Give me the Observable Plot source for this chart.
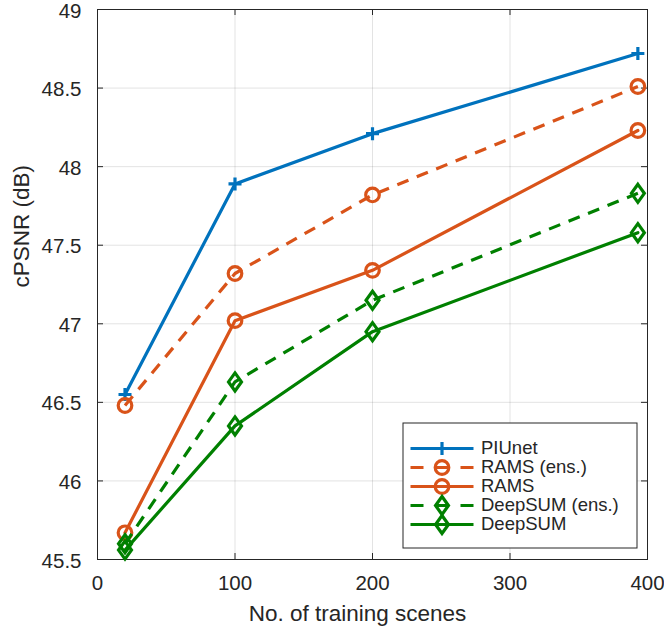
<!DOCTYPE html>
<html><head><meta charset="utf-8">
<script src="https://cdn.jsdelivr.net/npm/d3@7"></script>
<script src="https://cdn.jsdelivr.net/npm/@observablehq/plot@0.6"></script>
<style>
html,body{margin:0;padding:0;background:#fff;}
#wrap{position:relative;width:664px;height:628px;}
#legend{position:absolute;left:402px;top:422px;}
</style></head><body><div id="wrap"></div>
<script>
// ---- data ----
const scenes = [20, 100, 200, 393];
const seriesNames = ["PIUnet", "RAMS (ens.)", "RAMS", "DeepSUM (ens.)", "DeepSUM"];
const piunet     = [46.55, 47.89, 48.21, 48.72];
const ramsEns    = [46.48, 47.32, 47.82, 48.51];
const rams       = [45.67, 47.02, 47.34, 48.23];
const deepsumEns = [45.60, 46.63, 47.15, 47.83];
const deepsum    = [45.56, 46.35, 46.95, 47.58];
const xTicks = [0, 100, 200, 300, 400];
const yTicks = [45.5, 46, 46.5, 47, 47.5, 48, 48.5, 49];
const xLabel = "No. of training scenes";
const yLabel = "cPSNR (dB)";

// ---- styles ----
const BLUE = "#0072BD", ORANGE = "#D95319", GREEN = "#008000", INK = "#262626";
const FONT = "'Liberation Sans', Helvetica, Arial, sans-serif";
const plusSym = {draw(ctx, size) {const r = Math.sqrt(size / Math.PI); ctx.moveTo(-r, 0); ctx.lineTo(r, 0); ctx.moveTo(0, -r); ctx.lineTo(0, r);}};
const diamondSym = {draw(ctx, size) {const r = Math.sqrt(size / Math.PI), w = r * 0.72; ctx.moveTo(0, -r); ctx.lineTo(w, 0); ctx.lineTo(0, r); ctx.lineTo(-w, 0); ctx.closePath();}};

const seriesValues = [piunet, ramsEns, rams, deepsumEns, deepsum];
const seriesStyle = [
  {color: BLUE, dash: null, symbol: plusSym, r: 6.5},
  {color: ORANGE, dash: "12,9", symbol: "circle", r: 6.8},
  {color: ORANGE, dash: null, symbol: "circle", r: 6.8},
  {color: GREEN, dash: "12,9", symbol: diamondSym, r: 9},
  {color: GREEN, dash: null, symbol: diamondSym, r: 9}
];
const series = seriesNames.map((name, i) => ({
  name, ...seriesStyle[i],
  data: scenes.map((x, j) => ({x, y: seriesValues[i][j]}))
}));

const W = 664, H = 628, ML = 97, MR = 17, MT = 9, MB = 69;
const [x0, x1] = [xTicks[0], xTicks[xTicks.length - 1]];
const [y0, y1] = [yTicks[0], yTicks[yTicks.length - 1]];
const tlx = 6 * (x1 - x0) / (W - ML - MR);
const tly = 6 * (y1 - y0) / (H - MT - MB);

const marks = [
  Plot.gridX(xTicks, {stroke: INK, strokeOpacity: 0.13, strokeWidth: 1}),
  Plot.gridY(yTicks, {stroke: INK, strokeOpacity: 0.13, strokeWidth: 1}),
  Plot.axisX(xTicks, {tickSize: 0, tickPadding: 16, fontSize: 20.5, fill: INK, label: null, tickFormat: d => `${d}`}),
  Plot.axisY(yTicks, {tickSize: 0, tickPadding: 16, dy: 1.5, fontSize: 20.5, fill: INK, label: null, tickFormat: d => `${d}`}),
  Plot.ruleY(yTicks, {y: d => d, x1: x0, x2: x0 + tlx, stroke: INK}),
  Plot.ruleY(yTicks, {y: d => d, x1: x1 - tlx, x2: x1, stroke: INK}),
  Plot.ruleX(xTicks, {x: d => d, y1: y0, y2: y0 + tly, stroke: INK}),
  Plot.ruleX(xTicks, {x: d => d, y1: y1 - tly, y2: y1, stroke: INK}),
  Plot.frame({stroke: INK, strokeWidth: 1}),
];
for (const s of series) {
  marks.push(Plot.line(s.data, {x: "x", y: "y", stroke: s.color, strokeWidth: 3.2,
    strokeDasharray: s.dash || undefined, strokeLinecap: s.dash ? "butt" : "round", strokeLinejoin: "round"}));
  marks.push(Plot.dot(s.data, {x: "x", y: "y", symbol: s.symbol, r: s.r, stroke: s.color, fill: "none", strokeWidth: 3.2}));
}
marks.push(Plot.text([xLabel], {frameAnchor: "bottom", dx: -15, dy: 61, lineAnchor: "bottom", fontSize: 22.5, fill: INK}));
marks.push(Plot.text([yLabel], {frameAnchor: "left", rotate: -90, dx: -69, dy: 3, lineAnchor: "bottom", fontSize: 22.5, fill: INK}));

const chart = Plot.plot({
  width: W, height: H, marginLeft: ML, marginRight: MR, marginTop: MT, marginBottom: MB,
  x: {domain: [x0, x1], axis: null},
  y: {domain: [y0, y1], axis: null},
  style: {fontFamily: FONT, background: "white", color: INK, overflow: "visible"},
  marks
});
document.getElementById("wrap").appendChild(chart);

// ---- legend (overlay) ----
const legendMarks = [Plot.frame({fill: "white", stroke: INK, strokeWidth: 1, inset: 0.5})];
for (const s of series) {
  legendMarks.push(Plot.line([0, 1], {x: d => d, y: () => s.name, stroke: s.color, strokeWidth: 3.2,
    strokeDasharray: s.dash ? "13,12" : undefined, strokeLinecap: "butt"}));
  legendMarks.push(Plot.dot([0.5], {x: d => d, y: () => s.name, symbol: s.symbol, r: s.r, stroke: s.color, fill: "none", strokeWidth: 3.2}));
  legendMarks.push(Plot.text([s.name], {x: () => 1, y: d => d, dx: 7.5, textAnchor: "start", fontSize: 18.5, fill: INK}));
}
const legend = Plot.plot({
  width: 235, height: 126, margin: 0,
  x: {domain: [0, 1], range: [8, 71], axis: null},
  y: {type: "point", domain: seriesNames, range: [16, 111], axis: null},
  style: {fontFamily: FONT, background: "transparent", overflow: "visible"},
  marks: legendMarks
});
legend.id = "legend";
document.getElementById("wrap").appendChild(legend);
</script></body></html>
